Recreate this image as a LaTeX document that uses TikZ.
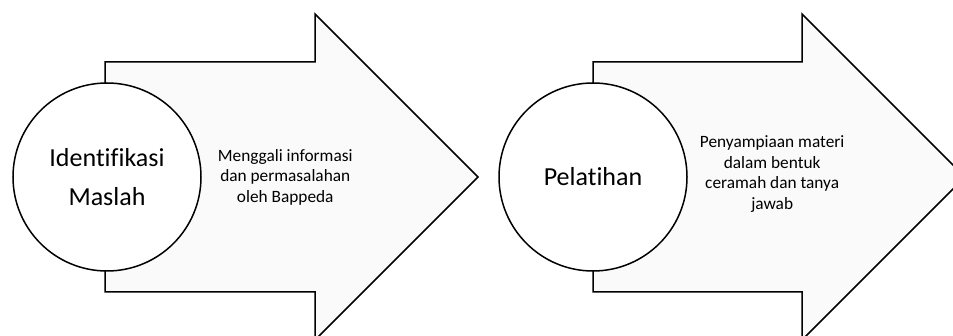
\documentclass[tikz,border=0pt]{standalone}
\usepackage{fontspec}
\setmainfont{Carlito}[Ligatures=NoCommon]
\usetikzlibrary{positioning}

\begin{document}
\begin{tikzpicture}[x=1pt,y=-1pt,
    blockarrow/.style={draw=black, line width=1.5pt, fill=black!2, line join=miter},
    stepcircle/.style={circle, draw=black, line width=1.5pt, fill=white, minimum size=188pt,
      inner sep=0pt, align=center, font=\fontsize{26}{39}\selectfont},
    steptext/.style={align=center, inner sep=0pt, font=\fontsize{17.3}{20.5}\selectfont}]
    \useasboundingbox (0,0) rectangle (953,336);
    % arrows
    \draw[blockarrow] (105,62) -- (315,62) -- (315,14) -- (478,177) -- (315,340) -- (315,292) -- (105,292) -- cycle;
    \draw[blockarrow] (593,62) -- (802,62) -- (802,14) -- (965,177) -- (802,340) -- (802,292) -- (593,292) -- cycle;
    % circles and texts
    \node[stepcircle] (identifikasi) at (107,177) {Identifikasi\\Maslah};
    \node[steptext, right=16pt of identifikasi] (menggali) {Menggali informasi\\dan permasalahan\\oleh Bappeda};
    \node[stepcircle] (pelatihan) at (593,177) {Pelatihan};
    \node[steptext, right=12pt of pelatihan, yshift=3pt] (penyampaian) {Penyampiaan materi\\dalam bentuk\\ceramah dan tanya\\jawab};
\end{tikzpicture}
\end{document}
